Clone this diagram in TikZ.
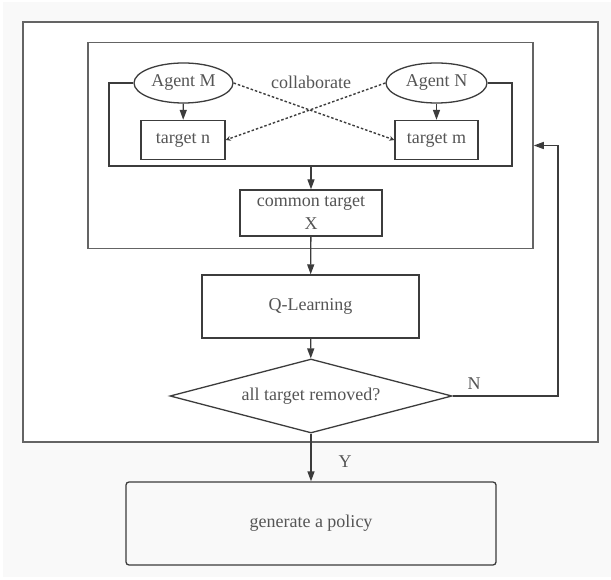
\documentclass[tikz,border=0pt]{standalone}
\usepackage{fontspec}
\setmainfont{Liberation Serif}
\usetikzlibrary{arrows.meta,shapes.geometric}
\definecolor{linegray}{HTML}{3C3C3C}
\definecolor{framegray}{HTML}{646464}
\definecolor{textgray}{HTML}{555555}
\definecolor{paper}{HTML}{F9F9F9}
\begin{document}
\begin{tikzpicture}[x=1pt,y=-1pt,
  every node/.style={font=\fontsize{18}{23}\selectfont,text=textgray},
  frame/.style={draw=framegray,line width=1.5pt,inner sep=0pt},
  box/.style={draw=linegray,line width=1.3pt,inner sep=0pt},
  flow/.style={draw=linegray,line width=1.3pt,-{Triangle[length=10pt,width=7pt]}},
  collab/.style={draw=linegray,line width=1.4pt,dash pattern=on 2.5pt off 2pt,-{Stealth[length=5pt,width=5pt]}}]
\useasboundingbox (0,0) rectangle (611,580);
\fill[paper] (3,2) rectangle (611,577);
% frames
\node[frame,fill=white,minimum width=575pt,minimum height=420pt] (outer) at (310.5,232) {};
\node[frame,minimum width=445pt,minimum height=206pt] (inner) at (310.5,145.5) {};
% agents and their targets
\node[box,ellipse,minimum width=99pt,minimum height=40pt] (agentM) at (183.5,83) {Agent M};
\node[box,ellipse,minimum width=101pt,minimum height=40pt] (agentN) at (436.5,83) {Agent N};
\node[box,minimum width=84pt,minimum height=39pt] (targetn) at (183,140) {target n};
\node[box,minimum width=83pt,minimum height=39pt] (targetm) at (436.5,140) {target m};
\node (collab) at (311,82) {collaborate};
\draw[flow] (agentM) -- (targetn);
\draw[flow] (agentN) -- (targetm);
\draw[collab] (agentM.east) -- (targetm.west);
\draw[collab] (agentN.west) -- (targetn.east);
% bracket joining both agents
\coordinate (join) at (311,166);
\draw[box] (agentM.west) -- (109,83) -- (109,166) -- (512,166) -- (512,83) -- (agentN.east);
% main flow
\node[box,align=center,minimum width=142pt,minimum height=46pt] (common) at (311,213) {common target\\X};
\node[box,minimum width=217pt,minimum height=63pt] (qlearn) at (310.5,306.5) {Q-Learning};
\node[box,diamond,aspect=3.8,minimum width=282pt,minimum height=74pt] (check) at (311,396) {all target removed?};
\node[box,rounded corners=3pt,minimum width=370pt,minimum height=83pt] (policy) at (311,523.5) {generate a policy};
\draw[flow] (join) -- (common);
\draw[flow] (common) -- (qlearn);
\draw[flow] (qlearn) -- (check);
\draw[flow] (check) -- (policy);
\draw[flow] (check.east) -- (558,396) -- (558,145.5) -- (inner.east);
\node (no) at (474,384) {N};
\node (yes) at (345,462) {Y};
\end{tikzpicture}
\end{document}
